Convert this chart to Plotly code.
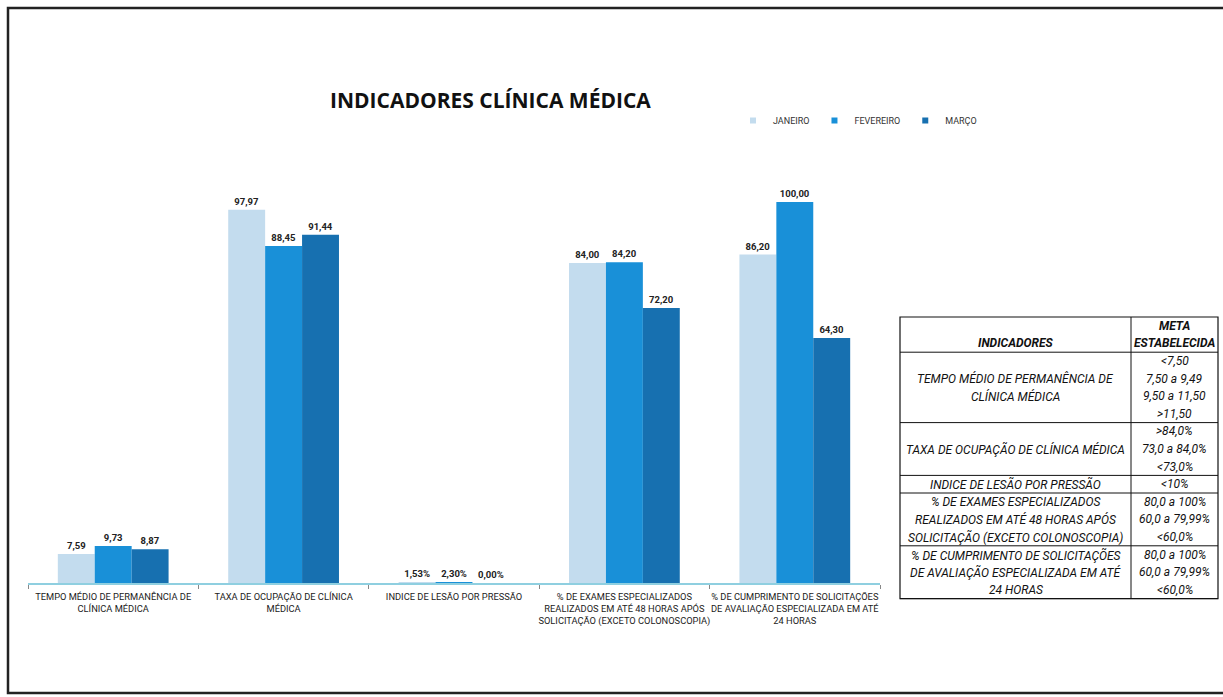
import plotly.graph_objects as go

# ---------------- data ----------------
categories = [
    "TEMPO MÉDIO DE PERMANÊNCIA DE<br>CLÍNICA MÉDICA",
    "TAXA DE OCUPAÇÃO DE CLÍNICA<br>MÉDICA",
    "INDICE DE LESÃO POR PRESSÃO",
    "% DE EXAMES ESPECIALIZADOS<br>REALIZADOS EM ATÉ 48 HORAS APÓS<br>SOLICITAÇÃO (EXCETO COLONOSCOPIA)",
    "% DE CUMPRIMENTO DE SOLICITAÇÕES<br>DE AVALIAÇÃO ESPECIALIZADA EM ATÉ<br>24 HORAS",
]
is_percent = [False, False, True, False, False]
janeiro = [7.59, 97.97, 0.0153, 84.00, 86.20]
fevereiro = [9.73, 88.45, 0.0230, 84.20, 100.00]
marco = [8.87, 91.44, 0.0000, 72.20, 64.30]
series_names = ["JANEIRO", "FEVEREIRO", "MARÇO"]
series_colors = ["#c3dcee", "#1990d8", "#1770b0"]

table_header = [["", "INDICADORES"], ["META", "ESTABELECIDA"]]
table_indicators = [
    ["TEMPO MÉDIO DE PERMANÊNCIA DE", "CLÍNICA MÉDICA"],
    ["TAXA DE OCUPAÇÃO DE CLÍNICA MÉDICA"],
    ["INDICE DE LESÃO POR PRESSÃO"],
    ["% DE EXAMES ESPECIALIZADOS", "REALIZADOS EM ATÉ 48 HORAS APÓS", "SOLICITAÇÃO (EXCETO COLONOSCOPIA)"],
    ["% DE CUMPRIMENTO DE SOLICITAÇÕES", "DE AVALIAÇÃO ESPECIALIZADA EM ATÉ", "24 HORAS"],
]
table_metas = [
    ["<7,50", "7,50 a 9,49", "9,50 a 11,50", ">11,50"],
    [">84,0%", "73,0 a 84,0%", "<73,0%"],
    ["<10%"],
    ["80,0 a 100%", "60,0 a 79,99%", "<60,0%"],
    ["80,0 a 100%", "60,0 a 79,99%", "<60,0%"],
]


def fmt(v, pct):
    if pct:
        return f"{v*100:.2f}%".replace(".", ",")
    return f"{v:.2f}".replace(".", ",")


def esc(s):
    return s.replace("&", "&amp;").replace("<", "&lt;").replace(">", "&gt;")


W, H = 1223, 697
FONT = "Roboto, Liberation Sans, sans-serif"

fig = go.Figure()
for name, vals, col in zip(series_names, [janeiro, fevereiro, marco], series_colors):
    fig.add_trace(go.Bar(
        x=categories, y=vals, name=name, marker_color=col,
        marker_line_width=0, showlegend=False,
        text=[fmt(v, p) for v, p in zip(vals, is_percent)],
        textposition="outside", cliponaxis=False,
        textfont=dict(family=FONT, size=9.5, color="#222222", weight="bold"),
    ))
# legend entries (small squares)
for name, col in zip(series_names, series_colors):
    fig.add_trace(go.Scatter(x=[None], y=[None], mode="markers", name=name,
                             marker=dict(symbol="square", size=6, color=col)))

# ---------------- table (shapes + text built from the lists) ----------------
TX0, TXM, TX1 = 900, 1131, 1218
TY0 = 317
LH = 17.6
px = lambda x: x / W
py = lambda y: (H - y) / H

shapes = []
annotations = []
rows = [(table_header, True)] + [((l, r), False) for l, r in zip(table_indicators, table_metas)]
y = TY0
for (left, right), bold in rows:
    n = max(len(left), len(right))
    h = n * LH
    for cx, lines in ((0.5 * (TX0 + TXM), left), (0.5 * (TXM + TX1), right)):
        k = len(lines)
        for i, line in enumerate(lines):
            if not line:
                continue
            ly = y + h / 2 + (i - (k - 1) / 2) * LH
            t = f"<i>{esc(line)}</i>"
            if bold:
                t = f"<b>{t}</b>"
            annotations.append(dict(text=t, x=px(cx), y=py(ly), xref="paper", yref="paper",
                                    xanchor="center", yanchor="middle", showarrow=False,
                                    font=dict(family=FONT, size=12, color="#111")))
    y += h
    shapes.append(dict(type="line", xref="paper", yref="paper", x0=px(TX0), x1=px(TX1),
                       y0=py(y), y1=py(y), line=dict(color="#111", width=1)))
TY1 = y
shapes.append(dict(type="rect", xref="paper", yref="paper", x0=px(TX0), x1=px(TX1),
                   y0=py(TY1), y1=py(TY0), line=dict(color="#111", width=1.2)))
shapes.append(dict(type="line", xref="paper", yref="paper", x0=px(TXM), x1=px(TXM),
                   y0=py(TY1), y1=py(TY0), line=dict(color="#111", width=1)))

# outer frame
shapes.append(dict(type="rect", xref="paper", yref="paper", x0=px(8), x1=1.01, y0=py(693),
                   y1=py(8), line=dict(color="#222", width=2.5), fillcolor="rgba(0,0,0,0)"))

annotations.append(dict(text="<b>INDICADORES CLÍNICA MÉDICA</b>", x=px(490), y=py(100),
                        xref="paper", yref="paper", xanchor="center", yanchor="middle",
                        showarrow=False,
                        font=dict(family="Open Sans, Liberation Sans, sans-serif", size=21,
                                  color="#111")))

fig.update_layout(
    width=W, height=H,
    margin=dict(l=0, r=0, t=0, b=0, autoexpand=False),
    paper_bgcolor="white", plot_bgcolor="white",
    barmode="group", bargap=0.35, bargroupgap=0,
    font=dict(family=FONT, color="#222"),
    showlegend=True,
    legend=dict(orientation="h", x=px(733), y=py(106), xanchor="left", yanchor="top",
                font=dict(family=FONT, size=9, color="#333"), itemwidth=30,
                bgcolor="rgba(0,0,0,0)", traceorder="normal"),
    xaxis=dict(domain=[px(28), px(880)], showline=True, linecolor="#8fcfe0", linewidth=1.5,
               ticks="outside", tickson="boundaries", ticklen=4, tickcolor="#888",
               tickangle=0, automargin=False, ticklabelstandoff=4,
               tickfont=dict(family=FONT, size=9.3, color="#222"), showgrid=False,
               fixedrange=True),
    yaxis=dict(domain=[py(583), py(183)], range=[0, 105], visible=False,
               automargin=False, showgrid=False, fixedrange=True),
    annotations=annotations,
    shapes=shapes,
)

fig.write_html("out.html", config={"displayModeBar": False},
               post_script="document.body.style.margin='0';")
